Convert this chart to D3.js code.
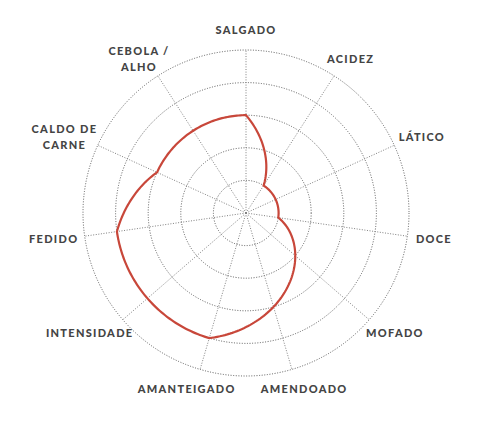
<!DOCTYPE html>
<html>
<head>
<meta charset="utf-8">
<script src="https://cdn.jsdelivr.net/npm/d3@7"></script>
<style>
  body { margin: 0; background: #fff; }
  svg { display: block; }
  .label { font-family: Lato, "Open Sans", sans-serif; font-weight: 900; font-size: 11px; letter-spacing: 1.3px; fill: #444; }
</style>
</head>
<body>
<svg id="drawing_region"></svg>
<script>
// flavour axes, clockwise from the top
const categories = [
  ["SALGADO"], ["ACIDEZ"], ["LÁTICO"], ["DOCE"], ["MOFADO"], ["AMENDOADO"],
  ["AMANTEIGADO"], ["INTENSIDADE"], ["FEDIDO"], ["CALDO DE", "CARNE"], ["CEBOLA /", "ALHO"]
];
const values = [3, 1, 1, 1, 2, 3, 4, 4, 4, 3, 3];
const ticks = [1, 2, 3, 4, 5];

const width = 493, height = 426;
const cx = 246, cy = 213, radius = 163;

// straight line in polar space: radius changes linearly with the angle
function curvePolarClosed(context) {
  let pts = [];
  return {
    areaStart() {}, areaEnd() {},
    lineStart() { pts = []; },
    point(x, y) { pts.push([x, y]); },
    lineEnd() {
      const n = pts.length;
      pts.forEach((p, i) => {
        const q = pts[(i + 1) % n];
        const r0 = Math.hypot(p[0], p[1]), r1 = Math.hypot(q[0], q[1]);
        const a0 = Math.atan2(p[1], p[0]);
        let da = Math.atan2(q[1], q[0]) - a0;
        if (da > Math.PI) da -= 2 * Math.PI;
        if (da < -Math.PI) da += 2 * Math.PI;
        const steps = 30;
        for (let k = 0; k < steps; k++) {
          const t = k / steps, r = r0 + (r1 - r0) * t, a = a0 + da * t;
          if (i === 0 && k === 0) context.moveTo(r * Math.cos(a), r * Math.sin(a));
          else context.lineTo(r * Math.cos(a), r * Math.sin(a));
        }
      });
      context.closePath();
    }
  };
}

const svg = d3.select('#drawing_region')
  .attr('width', width)
  .attr('height', height);

const g = svg.append('g').attr('transform', `translate(${cx},${cy})`);

const r = d3.scaleLinear().domain([0, 5]).range([0, radius]);
const angle = d3.scaleLinear().domain([0, categories.length]).range([0, 2 * Math.PI]);

// rings
g.selectAll('.ring')
  .data(ticks)
  .join('circle')
  .attr('class', 'ring')
  .attr('r', d => r(d))
  .attr('fill', 'none')
  .attr('stroke', '#5a5a5a')
  .attr('stroke-width', 1)
  .attr('stroke-dasharray', '1,1.6');

// spokes
g.selectAll('.spoke')
  .data(categories)
  .join('line')
  .attr('class', 'spoke')
  .attr('x1', 0).attr('y1', 0)
  .attr('x2', (d, i) => r(5) * Math.sin(angle(i)))
  .attr('y2', (d, i) => -r(5) * Math.cos(angle(i)))
  .attr('stroke', '#808080')
  .attr('stroke-width', 1)
  .attr('stroke-dasharray', '1,1.6');

// profile
const line = d3.lineRadial()
  .angle((d, i) => angle(i))
  .radius(d => r(d))
  .curve(curvePolarClosed);

g.append('path')
  .datum(values)
  .attr('d', line)
  .attr('fill', 'none')
  .attr('stroke', '#c8473a')
  .attr('stroke-width', 2.2)
  .attr('stroke-linejoin', 'miter');

// labels
const lineH = 16;
const labels = g.selectAll('.label')
  .data(categories)
  .join('text')
  .attr('class', 'label')
  .attr('text-anchor', 'middle');

labels.selectAll('tspan')
  .data(d => d)
  .join('tspan')
  .text(d => d);

labels.each(function(d, i) {
  const t = d3.select(this);
  const w = d3.max(t.selectAll('tspan').nodes(), n => n.getComputedTextLength());
  const a = angle(i);
  const s = Math.sin(a), c = Math.cos(a);
  const x = 178 * s + 0.66 * (w / 2) * s;
  const y = -178 * c - 5 * c;
  t.selectAll('tspan')
    .attr('x', x)
    .attr('y', (l, j) => y + 4 - (d.length - 1) * lineH / 2 + j * lineH);
});
</script>
</body>
</html>
